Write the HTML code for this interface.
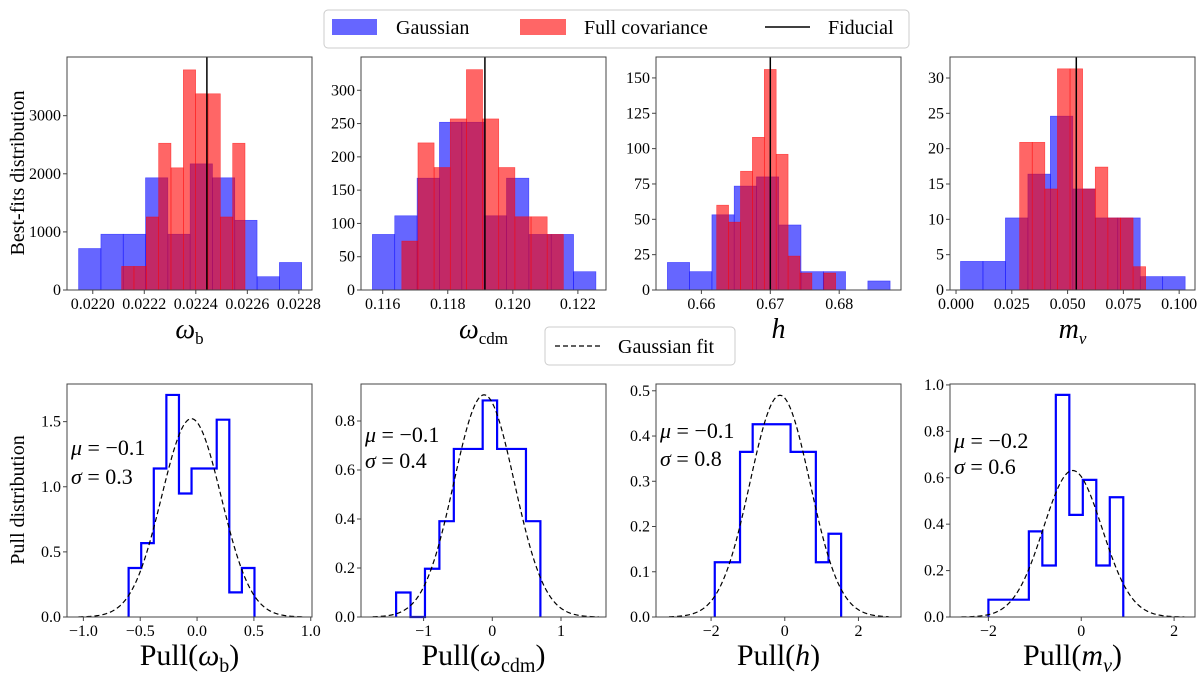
<!DOCTYPE html>
<html><head><meta charset="utf-8"><style>
body{margin:0;background:#fff;}
svg{display:block;}
svg text{font-family:"Liberation Serif","DejaVu Serif",serif;}
</style></head><body>
<svg id="fig" width="1200" height="680" viewBox="0 0 1200 680" xmlns="http://www.w3.org/2000/svg">
<g>
<rect x="324" y="10" width="585" height="38" rx="4" fill="#fff" stroke="#ccc"/>
<rect x="332" y="19" width="45" height="16" fill="rgba(0,0,255,0.6)"/>
<text x="396" y="34" font-size="20">Gaussian</text>
<rect x="520" y="19" width="46" height="16" fill="rgba(255,0,0,0.6)"/>
<text x="584" y="34" font-size="20">Full covariance</text>
<line x1="765" y1="27" x2="810" y2="27" stroke="#000" stroke-width="1.5"/>
<text x="828" y="34" font-size="20">Fiducial</text>
</g>
<g>
<rect x="545" y="327" width="190" height="38" rx="4" fill="#fff" stroke="#ccc"/>
<line x1="555" y1="346" x2="603" y2="346" stroke="#000" stroke-width="1.3" stroke-dasharray="5,3"/>
<text x="618" y="353" font-size="20">Gaussian fit</text>
</g>
<text transform="translate(24,173) rotate(-90)" text-anchor="middle" font-size="20">Best-fits distribution</text>
<text transform="translate(24,500) rotate(-90)" text-anchor="middle" font-size="20">Pull distribution</text>
</svg>
<script>
// ---- Top panels data ----
const wbBlue=[714,960,960,1931,960,2171,1931,1200,229,474];
const wbRed=[406,406,1257,2526,2103,3789,3377,3377,1257,2526];
const wcdmBlue=[83.5,111.5,168,252,252,111.5,168,83.5,83.5,27.5];
const wcdmRed=[73.5,221,184,257,331,257,184,110,110,83.5];
const hBlue=[19.5,13,53.2,73.5,80,46,13,13,0,6.4];
const hRed=[60,48,84,108,156,96,24,12,0,12];
const mnuBlue=[4.05,4.05,10.2,16.4,24.6,14.3,10.2,10.2,1.9,1.9];
const mnuRed=[20.9,20.9,14.3,31.3,31.3,14.3,17.4,10.2,10.2,3.3];
const blueRanges=[[0.021945,0.022811],[0.115683,0.122554],[0.65506,0.68739],[0.002,0.1027]];
const redRanges=[[0.022112,0.022591],[0.116587,0.121553],[0.66222,0.67949],[0.0285,0.0850]];
const fiducials=[0.022443,0.119142,0.67,0.0539];
const topXTicks=[[0.0220,0.0222,0.0224,0.0226,0.0228],[0.116,0.118,0.120,0.122],[0.66,0.67,0.68],[0,0.025,0.05,0.075,0.1]];
const topXTickLabels=[["0.0220","0.0222","0.0224","0.0226","0.0228"],["0.116","0.118","0.120","0.122"],["0.66","0.67","0.68"],["0.000","0.025","0.050","0.075","0.100"]];
const topYTicks=[[0,1000,2000,3000],[0,50,100,150,200,250,300],[0,25,50,75,100,125,150],[0,5,10,15,20,25,30]];
// ---- Bottom panels data ----
const pullWb=[0.376,0.567,1.14,1.705,0.948,1.14,1.14,1.515,0.189,0.376];
const pullWcdm=[0.1,0,0.197,0.391,0.686,0.686,0.884,0.686,0.686,0.391];
const pullH=[0.121,0.121,0.365,0.426,0.426,0.426,0.365,0.365,0.121,0.184];
const pullMnu=[0.0746,0.0746,0.0746,0.369,0.222,0.957,0.44,0.591,0.222,0.516];
const pullRanges=[[-0.602,0.505],[-1.40,0.70],[-1.90,1.53],[-2.0,0.905]];
const fitMu=[-0.05,-0.119,-0.13,-0.184];
const fitSigma=[0.262,0.44,0.814,0.632];
const fitRanges=[[-1.043,0.93],[-1.74,1.55],[-3.14,2.82],[-2.58,2.22]];
const muLabels=["−0.1","−0.1","−0.1","−0.2"];
const sigmaLabels=["0.3","0.4","0.8","0.6"];
const botXTicks=[[-1,-0.5,0,0.5,1],[-1,0,1],[-2,0,2],[-2,0,2]];
const botXTickLabels=[["−1.0","−0.5","0.0","0.5","1.0"],["−1","0","1"],["−2","0","2"],["−2","0","2"]];
const botYTicks=[[0,0.5,1.0,1.5],[0,0.2,0.4,0.6,0.8],[0,0.1,0.2,0.3,0.4,0.5],[0,0.2,0.4,0.6,0.8,1.0]];
const botYTickLabels=[["0.0","0.5","1.0","1.5"],["0.0","0.2","0.4","0.6","0.8"],["0.0","0.1","0.2","0.3","0.4","0.5"],["0.0","0.2","0.4","0.6","0.8","1.0"]];

// layout (not data)
const PX=[67,361,656,950], PW=245;
const topDom=[[0.02190,0.022851,0,4010],[0.115333,0.122864,0,350],[0.65341,0.68897,0,164.8],[-0.0027,0.1071,0,32.97]];
const botDom=[[-1.144,1.011,0,1.789],[-1.911,1.655,0,0.951],[-3.495,3.155,0,0.515],[-2.827,2.45,0,1.004]];
const topNames=["omega-b","omega-cdm","h","m-nu"];
const NS="http://www.w3.org/2000/svg";
const svg=document.getElementById('fig');
function mk(tag,attrs,parent){const e=document.createElementNS(NS,tag);for(const k in attrs)e.setAttribute(k,attrs[k]);(parent||svg).appendChild(e);return e;}
function scales(i,dom,top,bot){
  const x=v=>PX[i]+(v-dom[0])/(dom[1]-dom[0])*PW;
  const y=v=>bot-(v-dom[2])/(dom[3]-dom[2])*(bot-top);
  return {x,y};
}
function axes(g,i,s,top,bot,xt,xl,yt,yl){
  const ax=mk('g',{},g);
  
  
  mk('rect',{x:PX[i],y:top,width:PW,height:bot-top,fill:'none',stroke:'#444','stroke-width':1},ax);
  xt.forEach((v,k)=>{const X=s.x(v);mk('line',{x1:X,x2:X,y1:bot,y2:bot+4,stroke:'#444'},ax);
    const t=mk('text',{x:X,y:bot+19,'font-size':16,'text-anchor':'middle'},ax);t.textContent=xl[k];
    
    });
  yt.forEach((v,k)=>{const Y=s.y(v);mk('line',{x1:PX[i]-4,x2:PX[i],y1:Y,y2:Y,stroke:'#444'},ax);
    const t=mk('text',{x:PX[i]-6,y:Y+5,'font-size':16,'text-anchor':'end'},ax);t.textContent=yl[k];
    
    });
}
function bars(g,s,vals,range,color,name){
  const w=(range[1]-range[0])/vals.length;
  vals.forEach((v,k)=>{if(v<=0)return;const x0=s.x(range[0]+k*w),x1=s.x(range[0]+(k+1)*w);
    const r=mk('rect',{x:x0,y:s.y(v),width:x1-x0,height:s.y(0)-s.y(v),fill:color,stroke:color,'stroke-width':0.6},g);
    
    });
}
const topBlue=[wbBlue,wcdmBlue,hBlue,mnuBlue], topRed=[wbRed,wcdmRed,hRed,mnuRed];
const topXLabel=['<tspan font-style="italic">ω</tspan><tspan font-size="17" dy="6">b</tspan>','<tspan font-style="italic">ω</tspan><tspan font-size="17" dy="6">cdm</tspan>','<tspan font-style="italic">h</tspan>','<tspan font-style="italic">m</tspan><tspan font-size="17" dy="6" font-style="italic">ν</tspan>'];
for(let i=0;i<4;i++){
  const T=57,B=290,s=scales(i,topDom[i],T,B);
  const g=mk('g',{});
  
  
  bars(g,s,topBlue[i],blueRanges[i],'rgba(0,0,255,0.6)','gaussian');
  bars(g,s,topRed[i],redRanges[i],'rgba(255,0,0,0.6)','full-covariance');
  const f=mk('line',{x1:s.x(fiducials[i]),x2:s.x(fiducials[i]),y1:T,y2:B,stroke:'#000','stroke-width':1.5},g);
  
  
  axes(g,i,s,T,B,topXTicks[i],topXTickLabels[i],topYTicks[i],topYTicks[i].map(String));
  const t=mk('text',{x:PX[i]+PW/2,y:338,'font-size':28,'text-anchor':'middle'},g);t.innerHTML=topXLabel[i];
  
  
}
const pulls=[pullWb,pullWcdm,pullH,pullMnu];
const botXLabel=['Pull(<tspan font-style="italic">ω</tspan><tspan font-size="20" dy="7">b</tspan><tspan dy="-7">)</tspan>','Pull(<tspan font-style="italic">ω</tspan><tspan font-size="20" dy="7">cdm</tspan><tspan dy="-7">)</tspan>','Pull(<tspan font-style="italic">h</tspan>)','Pull(<tspan font-style="italic">m</tspan><tspan font-size="20" dy="7" font-style="italic">ν</tspan><tspan dy="-7">)</tspan>'];
const textY=[[455,480],[442,464],[438,462],[448,470]];
for(let i=0;i<4;i++){
  const T=384,B=617,s=scales(i,botDom[i],T,B);
  const g=mk('g',{});
  
  
  const vals=pulls[i],r=pullRanges[i],w=(r[1]-r[0])/vals.length;
  let d='M'+s.x(r[0])+','+s.y(0);
  vals.forEach((v,k)=>{d+=' L'+s.x(r[0]+k*w)+','+s.y(v)+' L'+s.x(r[0]+(k+1)*w)+','+s.y(v);});
  d+=' L'+s.x(r[1])+','+s.y(0);
  const st=mk('path',{d:d,fill:'none',stroke:'#0000ff','stroke-width':2.2},g);
  
  
  const mu=fitMu[i],sg=fitSigma[i],fr=fitRanges[i];let cd='';
  for(let k=0;k<=200;k++){const xv=fr[0]+(fr[1]-fr[0])*k/200;const yv=Math.exp(-0.5*((xv-mu)/sg)**2)/(sg*Math.sqrt(2*Math.PI));
    cd+=(k?' L':'M')+s.x(xv).toFixed(2)+','+s.y(yv).toFixed(2);}
  const c=mk('path',{d:cd,fill:'none',stroke:'#000','stroke-width':1.2,'stroke-dasharray':'5,3'},g);
  
  
  axes(g,i,s,T,B,botXTicks[i],botXTickLabels[i],botYTicks[i],botYTickLabels[i]);
  const tx=PX[i]+4;
  const m=mk('text',{x:tx,y:textY[i][0],'font-size':22},g);m.innerHTML='<tspan font-style="italic">μ</tspan> = '+muLabels[i];
  
  
  const sgt=mk('text',{x:tx,y:textY[i][1]+4,'font-size':22},g);sgt.innerHTML='<tspan font-style="italic">σ</tspan> = '+sigmaLabels[i];
  
  
  const t=mk('text',{x:PX[i]+PW/2,y:665,'font-size':30,'text-anchor':'middle'},g);t.innerHTML=botXLabel[i];
  
  
}
</script>
</body></html>
